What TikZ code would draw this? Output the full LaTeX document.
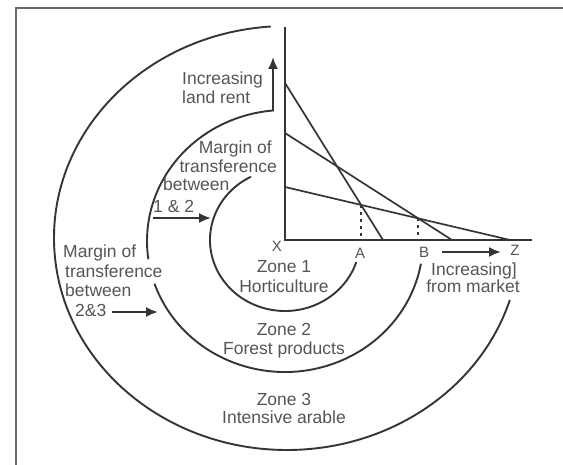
\documentclass[tikz,border=0pt]{standalone}
\usepackage{fontspec}
\setmainfont{Liberation Sans}
\usetikzlibrary{arrows.meta,calc}
\definecolor{ink}{HTML}{353535}
\definecolor{txt}{HTML}{555555}
\definecolor{frm}{HTML}{6A6A6A}
\tikzset{
  lbl/.style={inner sep=0pt, text=txt, font=\fontsize{17.5}{19.5}\selectfont},
  curve/.style={draw=ink, line width=1.9pt},
  axisline/.style={draw=ink, line width=2pt},
  rentline/.style={draw=ink, line width=1.7pt},
  guide/.style={draw=ink, line width=1.6pt, dash pattern=on 3pt off 4pt},
  arr/.style={draw=ink, line width=1.9pt, -{Latex[length=12pt,width=10pt]}},
}
\begin{document}
\begin{tikzpicture}[x=1pt,y=-1pt]
\useasboundingbox (0,0) rectangle (563,465);
% frame
\draw[frm, line width=2.4pt] (16,470) -- (16,8) -- (570,8);

% centres
\coordinate (c1) at (285,240);
\coordinate (c2) at (285,241);
\coordinate (c3) at (287,238);

% zone boundaries
\draw[curve] (c1) ++(-117:75 and 71) arc[start angle=-117, end angle=-342, x radius=75, y radius=71];
\draw[curve] (c2) ++(-199:138 and 131) arc[start angle=-199, end angle=-350, x radius=138, y radius=131];
\draw[curve] (c3) ++(-94:233 and 212) arc[start angle=-94, end angle=-343, x radius=233, y radius=212];
\coordinate (rentTip) at (273,57);
\draw[arr] (c2) ++(-188:138 and 131) arc[start angle=-188, end angle=-95, x radius=138, y radius=131] -- (rentTip);

% axes
\coordinate (X) at (285,240);
\coordinate (yTop) at (285,27);
\coordinate (xEnd) at (532,240);
\draw[axisline] (yTop) -- (X) -- (xEnd);

% rent lines
\coordinate (r1) at (285,83);  \coordinate (e1) at (383,240);
\coordinate (r2) at (285,133); \coordinate (e2) at (452,240);
\coordinate (r3) at (285,187); \coordinate (e3) at (510,240);
\draw[rentline] (r1) -- (e1);
\draw[rentline] (r2) -- (e2);
\draw[rentline] (r3) -- (e3);
\coordinate (iA) at (intersection of r1--e1 and r3--e3);
\coordinate (iB) at (intersection of r2--e2 and r3--e3);
\draw[guide] (iA) -- (iA |- X);
\draw[guide] (iB) -- (iB |- X);

% axis letters
\node[lbl, font=\fontsize{15}{17}\selectfont] (lX) at (277,246) {X};
\node[lbl, font=\fontsize{15}{17}\selectfont] (lA) at (360,253) {A};
\node[lbl, font=\fontsize{15}{17}\selectfont] (lB) at (424,252) {B};
\node[lbl, font=\fontsize{15}{17}\selectfont] (lZ) at (515,250) {Z};

% arrows
\coordinate (m12a) at (153,218); \coordinate (m12b) at (211,218);
\draw[arr] (m12a) -- (m12b);
\coordinate (m23a) at (112,312); \coordinate (m23b) at (158,312);
\draw[arr] (m23a) -- (m23b);
\coordinate (mkA) at (442,252); \coordinate (mkB) at (501,252);
\draw[arr] (mkA) -- (mkB);

% labels
\node[lbl, anchor=base west] (t1) at (182,85) {Increasing};
\node[lbl, anchor=base west] (t2) at (182,104) {land rent};

\node[lbl, anchor=base east] (m1) at (272,154) {Margin of};
\node[lbl, anchor=base east] (m2) at (277,173) {transference};
\node[lbl, anchor=base west] (m3) at (163,191) {between};
\node[lbl, anchor=base west] (m4) at (153,213) {1 \& 2};

\node[lbl, anchor=base west] (n1) at (63,258) {Margin of};
\node[lbl, anchor=base west] (n2) at (65,278) {transference};
\node[lbl, anchor=base west] (n3) at (65,297) {between};
\node[lbl, anchor=base west] (n4) at (75,317) {2\&3};

\node[lbl, anchor=base] (z1a) at (284,273) {Zone 1};
\node[lbl, anchor=base] (z1b) at (284,293) {Horticulture};
\node[lbl, anchor=base] (z2a) at (284,336) {Zone 2};
\node[lbl, anchor=base] (z2b) at (284,355) {Forest products};
\node[lbl, anchor=base] (z3a) at (284,406) {Zone 3};
\node[lbl, anchor=base] (z3b) at (284,424) {Intensive arable};

\node[lbl, anchor=base] (k1) at (474,276) {Increasing]};
\node[lbl, anchor=base] (k2) at (473,293) {from market};
\end{tikzpicture}
\end{document}
